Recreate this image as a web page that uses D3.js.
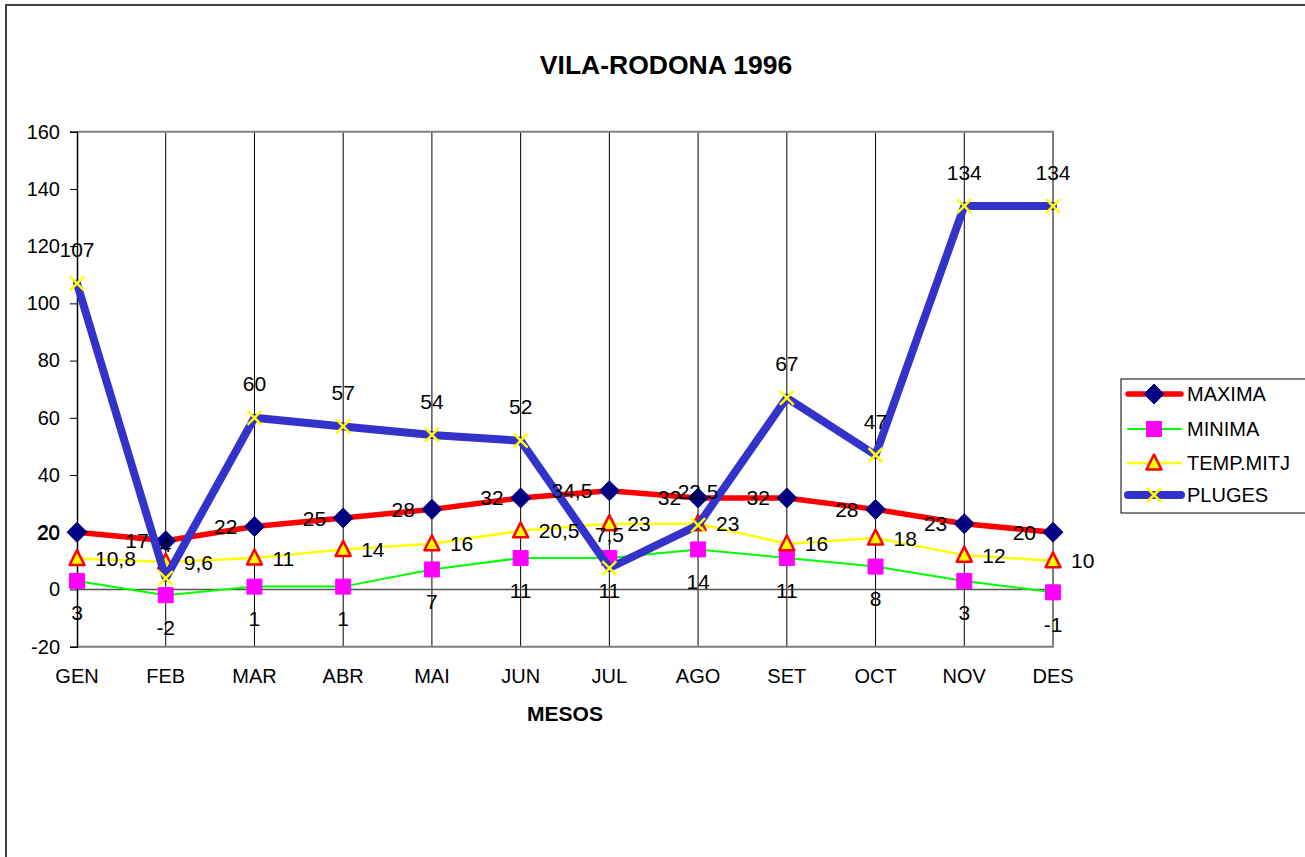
<!DOCTYPE html>
<html lang="ca">
<head>
<meta charset="UTF-8">
<title>VILA-RODONA 1996</title>
<script src="https://d3js.org/d3.v7.min.js"></script>
<style>
    body { margin: 0; background: #fff; }
    svg { display: block; font-family: 'Liberation Sans', Arial, sans-serif; }
    .lbl { font-size: 20px; fill: #000; }
    .dlbl { font-size: 21px; fill: #000; }
</style>
</head>
<body>
<svg id="chart" width="1305" height="857"></svg>
<script>
// dades llegides del grafic
const mesos = ["GEN", "FEB", "MAR", "ABR", "MAI", "JUN", "JUL", "AGO", "SET", "OCT", "NOV", "DES"];
const maxima = [20, 17, 22, 25, 28, 32, 34.5, 32, 32, 28, 23, 20];
const minima = [3, -2, 1, 1, 7, 11, 11, 14, 11, 8, 3, -1];
const tempMitj = [10.8, 9.6, 11, 14, 16, 20.5, 23, 23, 16, 18, 12, 10];
const pluges = [107, 4, 60, 57, 54, 52, 7.5, 22.5, 67, 47, 134, 134];
const yTicks = [-20, 0, 20, 40, 60, 80, 100, 120, 140, 160];

const svg = d3.select("#chart");

// marc exterior
svg.append("rect")
    .attr("x", 6).attr("y", 5)
    .attr("width", 1310).attr("height", 870)
    .attr("fill", "none").attr("stroke", "#404040").attr("stroke-width", 2);

const pLeft = 77, pRight = 1053, pTop = 131.7, pBottom = 646.7;

const x = d3.scalePoint().domain(mesos).range([pLeft, pRight]);
const y = d3.scaleLinear().domain([-20, 160]).range([pBottom, pTop]);

// quadricula vertical
svg.append("g").selectAll("line")
    .data(mesos.slice(1, -1))
    .join("line")
    .attr("x1", d => x(d)).attr("x2", d => x(d))
    .attr("y1", pTop).attr("y2", pBottom)
    .attr("stroke", "#000").attr("stroke-width", 1);

// vora de l'area del grafic
svg.append("path")
    .attr("d", `M${pLeft},${pTop}H${pRight}V${pBottom}H${pLeft}`)
    .attr("fill", "none").attr("stroke", "#808080").attr("stroke-width", 2);

// linia del zero
svg.append("line")
    .attr("x1", pLeft).attr("x2", pRight)
    .attr("y1", y(0)).attr("y2", y(0))
    .attr("stroke", "#555").attr("stroke-width", 1.5);

// eix Y
const yAxis = svg.append("g")
    .attr("transform", `translate(${pLeft},0)`)
    .call(d3.axisLeft(y).tickValues(yTicks).tickSize(7).tickPadding(10).tickFormat(d => String(d)));
yAxis.select(".domain").attr("stroke", "#000").attr("stroke-width", 1.5);
yAxis.selectAll(".tick line").attr("stroke", "#000");
yAxis.selectAll("text").attr("class", "lbl");
yAxis.attr("font-size", null).attr("font-family", null);

// eix X (etiquetes)
svg.append("g").selectAll("text")
    .data(mesos)
    .join("text")
    .attr("class", "lbl")
    .attr("x", d => x(d))
    .attr("y", 683)
    .attr("text-anchor", "middle")
    .text(d => d);

// titols
svg.append("text")
    .attr("x", 666).attr("y", 74)
    .attr("text-anchor", "middle")
    .attr("font-size", 26.5).attr("font-weight", "bold")
    .text("VILA-RODONA 1996");

svg.append("text")
    .attr("x", 565).attr("y", 721)
    .attr("text-anchor", "middle")
    .attr("font-size", 21).attr("font-weight", "bold")
    .text("MESOS");

const fmt = v => String(v).replace(".", ",");

const diamond = "M0,-10L10,0L0,10L-10,0Z";
const square = "M-7.5,-7.5H7.5V7.5H-7.5Z";
const triangle = "M0,-8.5L7.5,6.5H-7.5Z";
const cross = "M-7,-7L7,7M7,-7L-7,7";

const series = [
    { name: "MAXIMA", values: maxima, color: "#ff0000", width: 5.5, marker: diamond, mFill: "#000080", mStroke: "#000080", mWidth: 1, pos: "left" },
    { name: "MINIMA", values: minima, color: "#00ff00", width: 2, marker: square, mFill: "#ff00ff", mStroke: "#ff00ff", mWidth: 1, pos: "below" },
    { name: "TEMP.MITJ", values: tempMitj, color: "#ffff00", width: 2.5, marker: triangle, mFill: "#ffff00", mStroke: "#ff0000", mWidth: 2.5, pos: "right" },
    { name: "PLUGES", values: pluges, color: "#3333cc", width: 8, marker: cross, mFill: "none", mStroke: "#ffff00", mWidth: 2.5, pos: "above" }
];

const line = d3.line().x((d, i) => x(mesos[i])).y(d => y(d));

series.forEach(s => {
    const g = svg.append("g");
    g.append("path")
        .attr("d", line(s.values))
        .attr("fill", "none")
        .attr("stroke", s.color)
        .attr("stroke-width", s.width)
        .attr("stroke-linejoin", "round")
        .attr("stroke-linecap", "round");
    g.selectAll("path.m")
        .data(s.values)
        .join("path")
        .attr("class", "m")
        .attr("transform", (d, i) => `translate(${x(mesos[i])},${y(d)})`)
        .attr("d", s.marker)
        .attr("fill", s.mFill)
        .attr("stroke", s.mStroke)
        .attr("stroke-width", s.mWidth)
        .attr("stroke-linejoin", "round");
});

// etiquetes de dades
series.forEach(s => {
    svg.append("g").selectAll("text")
        .data(s.values)
        .join("text")
        .attr("class", "dlbl")
        .attr("x", (d, i) => {
            const cx = x(mesos[i]);
            if (s.pos === "left") return cx - 17;
            if (s.pos === "right") return cx + 18;
            return cx;
        })
        .attr("y", d => {
            const cy = y(d);
            if (s.pos === "below") return cy + 32;
            if (s.pos === "above") return cy - 34;
            return cy;
        })
        .attr("dy", "0.36em")
        .attr("text-anchor", s.pos === "left" ? "end" : s.pos === "right" ? "start" : "middle")
        .text(d => fmt(d));
});

// llegenda
const leg = svg.append("g");
leg.append("rect")
    .attr("x", 1121).attr("y", 379)
    .attr("width", 200).attr("height", 134)
    .attr("fill", "#fff").attr("stroke", "#000").attr("stroke-width", 1);

const legY = [394, 429, 463, 495];
series.forEach((s, i) => {
    const ly = legY[i];
    leg.append("line")
        .attr("x1", 1128).attr("x2", 1181)
        .attr("y1", ly).attr("y2", ly)
        .attr("stroke", s.color).attr("stroke-width", s.width)
        .attr("stroke-linecap", "round");
    leg.append("path")
        .attr("transform", `translate(1154,${ly})`)
        .attr("d", s.marker)
        .attr("fill", s.mFill)
        .attr("stroke", s.mStroke)
        .attr("stroke-width", s.mWidth)
        .attr("stroke-linejoin", "round");
    leg.append("text")
        .attr("class", "lbl")
        .attr("x", 1187).attr("y", ly)
        .attr("dy", "0.36em")
        .text(s.name);
});
</script>
</body>
</html>
